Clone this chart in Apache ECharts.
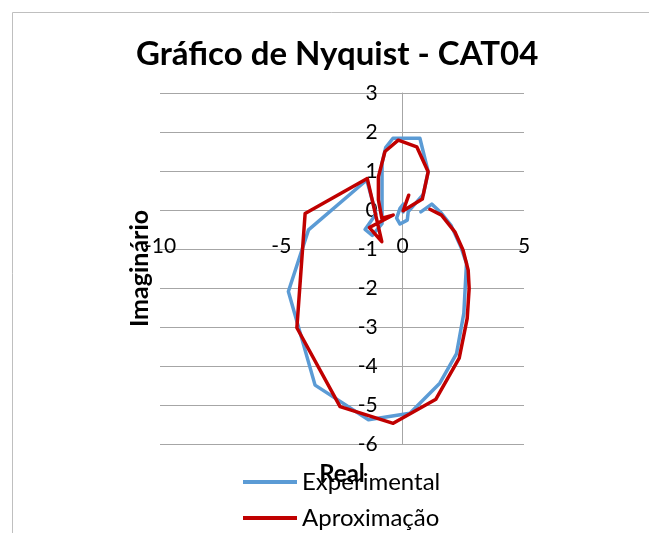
<!DOCTYPE html>
<html>
<head>
<meta charset="utf-8">
<script src="https://cdn.jsdelivr.net/npm/echarts@6/dist/echarts.min.js"></script>
<style>
  html, body { margin: 0; padding: 0; background: #fff; }
  #chart { width: 649px; height: 533px; }
</style>
</head>
<body>
<div id="chart"></div>
<script>
// pontos (real, imaginário)
var experimental = [
  [0.75, -0.05], [1.2, 0.15], [1.55, -0.05], [2.0, -0.4], [2.4, -0.95],
  [2.63, -1.37], [2.52, -2.65], [2.22, -3.68], [1.53, -4.44], [0.3, -5.21],
  [-1.41, -5.38], [-3.61, -4.49], [-4.71, -2.09], [-3.88, -0.51], [-1.48, 0.77],
  [-1.1, -0.1], [-1.55, -0.5], [-1.25, -0.65], [-0.85, -0.35], [-0.85, 0.3],
  [-0.85, 1.2], [-0.7, 1.6], [-0.4, 1.84], [0.71, 1.84], [1.05, 0.98],
  [0.85, 0.4], [0.23, -0.04], [0.19, -0.26], [-0.11, -0.36], [-0.25, -0.21],
  [-0.11, 0.04], [0.03, 0.15], [0.02, -0.05]
];
var aproximacao = [
  [0.25, 0.38], [0.02, -0.02], [0.81, 0.28], [1.05, 0.98], [0.58, 1.62],
  [-0.18, 1.79], [-0.73, 1.5], [-1.0, 0.85], [-1.0, 0.26], [-0.86, -0.21],
  [-0.39, -0.13], [-1.37, -0.45], [-0.86, -0.81], [-1.46, 0.81], [-4.02, -0.09],
  [-4.36, -3.02], [-2.58, -5.04], [-0.39, -5.47], [1.37, -4.85], [2.33, -3.8],
  [2.66, -2.78], [2.74, -2.01], [2.7, -1.54], [2.49, -1.03], [2.15, -0.56],
  [1.6, -0.13], [1.12, 0.02]
];
var seriesNames = ['Experimental', 'Aproximação'];
var cores = ['#5b9bd5', '#c00000'];

var fonte = 'Lato, "Open Sans", sans-serif';
var chart = echarts.init(document.getElementById('chart'));
chart.setOption({
  animation: false,
  color: cores,
  title: {
    text: 'Gráfico de Nyquist - CAT04',
    left: 136,
    top: 38,
    padding: 0,
    textStyle: { fontFamily: fonte, fontSize: 33, fontWeight: 'bold', color: '#000' }
  },
  graphic: [{
    type: 'rect',
    shape: { x: 12.5, y: 12.5, width: 700, height: 600 },
    style: { fill: null, stroke: '#bfbfbf', lineWidth: 1 },
    silent: true
  }],
  grid: { left: 160, right: 125, top: 93, bottom: 89, containLabel: false, outerBoundsMode: 'none' },
  legend: {
    orient: 'vertical',
    left: 243,
    top: 468,
    padding: 0,
    itemWidth: 54,
    itemHeight: 4,
    itemGap: 8,
    icon: 'rect',
    textStyle: { fontFamily: fonte, fontSize: 24, color: '#000', lineHeight: 28 },
    data: seriesNames
  },
  xAxis: {
    type: 'value',
    min: -10, max: 5, interval: 5,
    position: 'bottom',
    offset: -234,
    name: 'Real',
    nameLocation: 'middle',
    nameGap: 252,
    nameTextStyle: { fontFamily: fonte, fontSize: 24, fontWeight: 'bold', color: '#000' },
    axisLine: { show: false, onZero: false },
    axisTick: { show: false },
    splitLine: { show: false },
    axisLabel: { fontFamily: fonte, fontSize: 21, color: '#000', margin: 26 }
  },
  yAxis: {
    type: 'value',
    min: -6, max: 3, interval: 1,
    position: 'left',
    offset: -242.7,
    name: 'Imaginário',
    nameLocation: 'middle',
    nameGap: 250,
    nameTextStyle: { fontFamily: fonte, fontSize: 25, fontWeight: 'bold', color: '#000' },
    axisLine: { show: true, onZero: false, lineStyle: { color: '#a6a6a6', width: 1 } },
    axisTick: { show: false },
    splitLine: { show: true, lineStyle: { color: '#a6a6a6', width: 1 } },
    axisLabel: { fontFamily: fonte, fontSize: 21, color: '#000', margin: 25 }
  },
  series: [
    {
      name: seriesNames[0],
      type: 'line',
      data: experimental,
      showSymbol: false,
      symbol: 'none',
      lineStyle: { width: 3.5, cap: 'round', join: 'round' },
      z: 2
    },
    {
      name: seriesNames[1],
      type: 'line',
      data: aproximacao,
      showSymbol: false,
      symbol: 'none',
      lineStyle: { width: 3.5, cap: 'round', join: 'round' },
      z: 3
    }
  ]
});
</script>
</body>
</html>
